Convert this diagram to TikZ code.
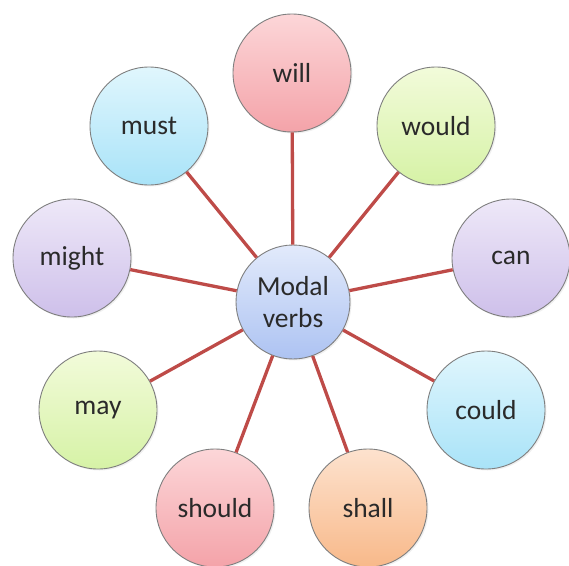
\documentclass[tikz,border=0pt]{standalone}
\usepackage{fontspec}
\setmainfont{Carlito}
\usetikzlibrary{shadows}
\definecolor{txt}{HTML}{2A2A2A}
\definecolor{link}{HTML}{BE4B48}
\definecolor{rim}{HTML}{7F7F7F}
\definecolor{pinkT}{HTML}{FCD6D8}\definecolor{pinkB}{HTML}{F4A3A9}
\definecolor{blueT}{HTML}{E0F6FD}\definecolor{blueB}{HTML}{A9E3F8}
\definecolor{greenT}{HTML}{F2FBDA}\definecolor{greenB}{HTML}{D6F2A6}
\definecolor{lavT}{HTML}{EEE8F8}\definecolor{lavB}{HTML}{CEC0EA}
\definecolor{orT}{HTML}{FDE2CE}\definecolor{orB}{HTML}{F8B98A}
\definecolor{ceT}{HTML}{E2EAFB}\definecolor{ceB}{HTML}{ADC3F2}
\tikzset{
  bubble/.style={circle, draw=rim, line width=0.9pt, minimum size=118pt, inner sep=0pt,
    font=\fontsize{27.5}{31}\selectfont, text=txt, align=center,
    drop shadow={opacity=0.12, shadow xshift=1.5pt, shadow yshift=-1.5pt}},
  pinkb/.style={bubble, top color=pinkT, bottom color=pinkB},
  blueb/.style={bubble, top color=blueT, bottom color=blueB},
  greenb/.style={bubble, top color=greenT, bottom color=greenB},
  lavb/.style={bubble, top color=lavT, bottom color=lavB},
  orangeb/.style={bubble, top color=orT, bottom color=orB},
  centerb/.style={bubble, minimum size=114pt, top color=ceT, bottom color=ceB},
  spoke/.style={draw=link, line width=3.3pt}
}
\begin{document}
\begin{tikzpicture}[x=1pt,y=-1pt]
\useasboundingbox (0,0) rectangle (569,565);
\node[centerb] (c) at (293,302) {Modal\\[1pt]verbs};
\node[pinkb] (will) at (292,73) {will};
\node[greenb] (would) at (436,126) {would};
\node[lavb] (can) at (511,258) {can};
\node[blueb] (could) at (486,410) {could};
\node[orangeb] (shall) at (368,508) {shall};
\node[pinkb] (should) at (215,508) {should};
\node[greenb] (may) at (98,410) {may};
\node[lavb] (might) at (72,258) {might};
\node[blueb] (must) at (149,126) {must};
\foreach \n in {will,would,can,could,shall,should,may,might,must}
  \draw[spoke] (c) -- (\n);
\end{tikzpicture}
\end{document}
